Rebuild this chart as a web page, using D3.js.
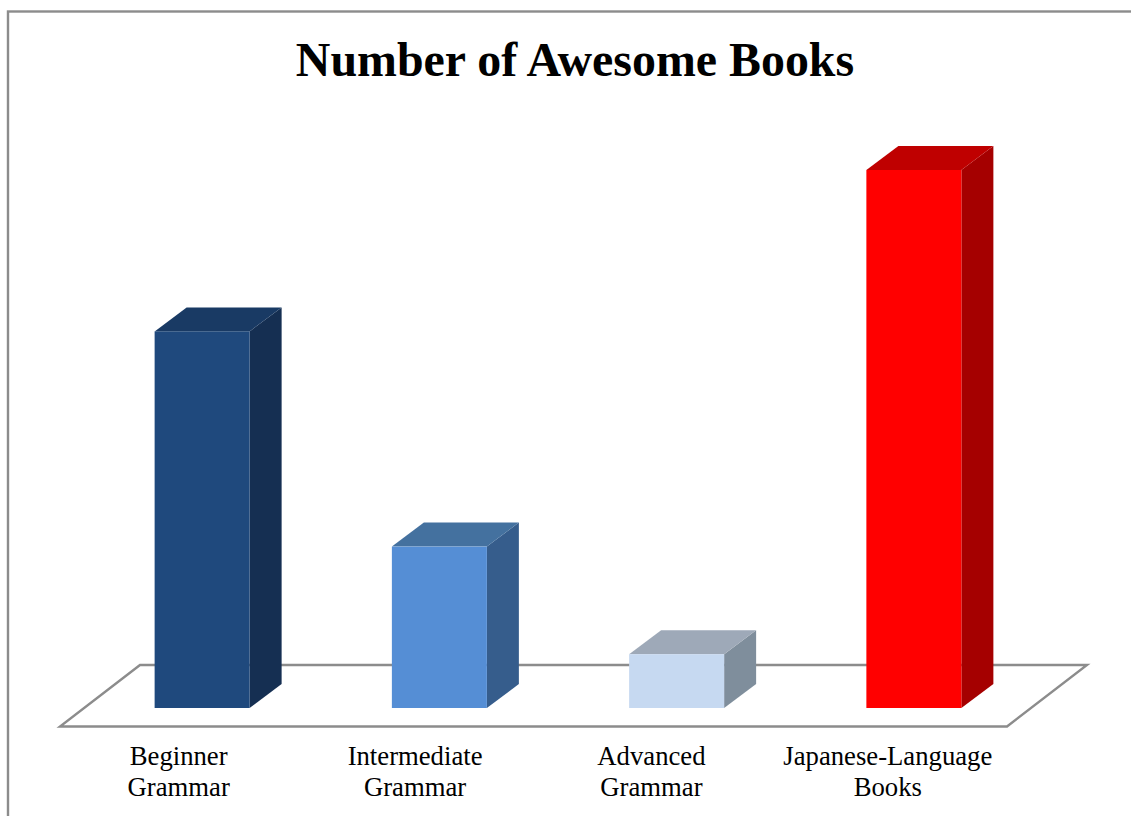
<!DOCTYPE html>
<html>
<head>
<meta charset="utf-8">
<script src="https://cdn.jsdelivr.net/npm/d3@7"></script>
<style>
  html, body { margin: 0; padding: 0; background: #fff; overflow: hidden; }
  text { font-family: "Liberation Serif", serif; fill: #000; }
</style>
</head>
<body>
<div id="chart"></div>
<script>
const categories = ["Beginner Grammar", "Intermediate Grammar", "Advanced Grammar", "Japanese-Language Books"];
const labelLines = [["Beginner", "Grammar"], ["Intermediate", "Grammar"], ["Advanced", "Grammar"], ["Japanese-Language", "Books"]];
const values = [7, 3, 1, 10];
const frontColors = ["#1f497d", "#558ed5", "#c6d9f1", "#ff0000"];
const topColors = ["#193a64", "#44719f", "#9ea9b8", "#bf0000"];
const sideColors = ["#152f52", "#365d8c", "#7f8e9c", "#a50000"];

const width = 1131;
const height = 816;
const barWidth = 95;
const depthX = 32;
const depthY = 24;
const barShift = 23.5;

const svg = d3.select("#chart")
  .append("svg")
  .attr("width", width)
  .attr("height", height)
  .style("display", "block");

// Chart border, runs off the right and bottom of the picture.
svg.append("rect")
  .attr("x", 8)
  .attr("y", 11.5)
  .attr("width", width + 20)
  .attr("height", height + 20)
  .attr("fill", "#fff")
  .attr("stroke", "#8c8c8c")
  .attr("stroke-width", 2.4);

svg.append("text")
  .attr("x", 575)
  .attr("y", 76)
  .attr("text-anchor", "middle")
  .attr("font-size", 47.9)
  .attr("font-weight", "bold")
  .text("Number of Awesome Books");

const x = d3.scaleBand().domain(categories).range([60, 1009]);
const labelX = d3.scaleBand().domain(categories).range([60.5, 1006]);
const y = d3.scaleLinear().domain([0, 10]).range([708, 170]);

// Floor of the 3D plot.
const floorFront = 726.5;
const floorBack = 665;
svg.append("path")
  .attr("d", `M${x.range()[0]},${floorFront}L${x.range()[1] - 2},${floorFront}L1087,${floorBack}L140,${floorBack}Z`)
  .attr("fill", "#fff")
  .attr("stroke", "#8c8c8c")
  .attr("stroke-width", 2.4)
  .attr("stroke-linejoin", "miter");

// Bars: side, top, front.
const bars = svg.append("g").attr("class", "bars")
  .selectAll("g")
  .data(categories)
  .join("g");

const left = d => x(d) + x.bandwidth() / 2 + barShift - barWidth / 2;

bars.append("path")
  .attr("d", (d, i) => {
    const r = left(d) + barWidth, t = y(values[i]), b = y(0);
    return `M${r},${t}L${r + depthX},${t - depthY}L${r + depthX},${b - depthY}L${r},${b}Z`;
  })
  .attr("fill", (d, i) => sideColors[i]);

bars.append("path")
  .attr("d", (d, i) => {
    const l = left(d), t = y(values[i]);
    return `M${l},${t}L${l + depthX},${t - depthY}L${l + barWidth + depthX},${t - depthY}L${l + barWidth},${t}Z`;
  })
  .attr("fill", (d, i) => topColors[i]);

bars.append("rect")
  .attr("x", d => left(d))
  .attr("y", (d, i) => y(values[i]))
  .attr("width", barWidth)
  .attr("height", (d, i) => y(0) - y(values[i]))
  .attr("fill", (d, i) => frontColors[i]);

// Category axis, labels wrapped on two lines.
const axis = svg.append("g")
  .attr("transform", "translate(0,727)")
  .call(d3.axisBottom(labelX).tickSize(0).tickFormat(""));
axis.select(".domain").remove();
axis.selectAll(".tick text").remove();
axis.selectAll(".tick")
  .append("text")
  .attr("text-anchor", "middle")
  .attr("font-size", 26.7)
  .style("fill", "#000")
  .selectAll("tspan")
  .data((d, i) => labelLines[i])
  .join("tspan")
  .attr("x", 0)
  .attr("y", (d, i) => 38 + i * 31)
  .text(d => d);
</script>
</body>
</html>
